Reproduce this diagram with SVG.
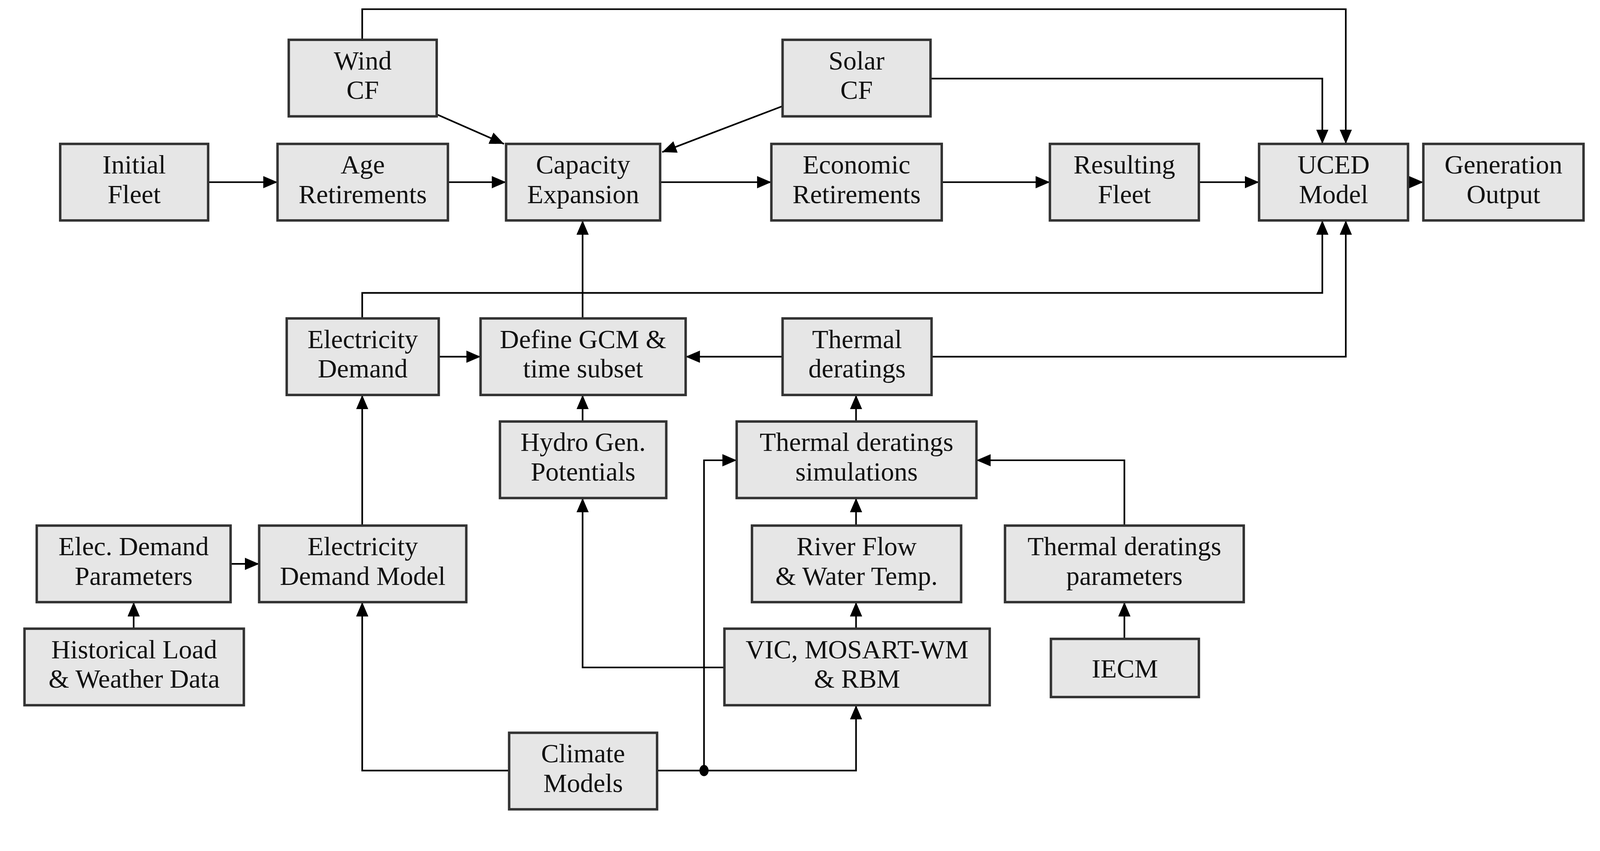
<svg xmlns="http://www.w3.org/2000/svg" width="4219" height="2178" viewBox="0 0 4219 2178">
<style>
.n rect{fill:#e6e6e6;stroke:#333;stroke-width:2.4}
.n text{font-family:"Liberation Serif",serif;font-size:26px;text-anchor:middle;fill:#111}
#edges path{fill:none;stroke:#000;stroke-width:1.6}
</style>
<defs>
<marker id="a" markerUnits="userSpaceOnUse" markerWidth="15" markerHeight="13" refX="14" refY="6" orient="auto"><path d="M0,0 L14,6 L0,12 z" fill="#000"/></marker>
</defs>
<rect width="4219" height="2178" fill="#fff"/>
<g transform="scale(2.612)">
<g id="edges">
<path d="M204,178.5 H272" marker-end="url(#a)"/>
<path d="M439,178.5 H496" marker-end="url(#a)"/>
<path d="M647,178.5 H756" marker-end="url(#a)"/>
<path d="M923,178.5 H1029" marker-end="url(#a)"/>
<path d="M1175,178.5 H1234" marker-end="url(#a)"/>
<path d="M1380,178.5 H1395" marker-end="url(#a)"/>
<path d="M428,112 L494,141" marker-end="url(#a)"/>
<path d="M767,104 L649,149" marker-end="url(#a)"/>
<path d="M355,39 V9 H1319 V141" marker-end="url(#a)"/>
<path d="M912,77 H1296 V141" marker-end="url(#a)"/>
<path d="M571,312 V216" marker-end="url(#a)"/>
<path d="M355,312 V287 H1296 V216" marker-end="url(#a)"/>
<path d="M913,349.5 H1319 V216" marker-end="url(#a)"/>
<path d="M430,349.5 H471" marker-end="url(#a)"/>
<path d="M767,349.5 H672" marker-end="url(#a)"/>
<path d="M571,413 V387" marker-end="url(#a)"/>
<path d="M839,413 V387" marker-end="url(#a)"/>
<path d="M839,515 V488" marker-end="url(#a)"/>
<path d="M839,616 V590" marker-end="url(#a)"/>
<path d="M1102,515 V451 H957" marker-end="url(#a)"/>
<path d="M1102,626 V590" marker-end="url(#a)"/>
<path d="M499,755 H355 V590" marker-end="url(#a)"/>
<path d="M644,755 H839 V691" marker-end="url(#a)"/>
<path d="M690,755 V451 H722" marker-end="url(#a)"/>
<path d="M710,654 H571 V488" marker-end="url(#a)"/>
<path d="M226,552.5 H254" marker-end="url(#a)"/>
<path d="M131,616 V590" marker-end="url(#a)"/>
<path d="M355,515 V387" marker-end="url(#a)"/>
<ellipse cx="690" cy="755" rx="4.5" ry="5.5" fill="#000"/>
</g>
<g id="wind" class="n"><rect x="283" y="39" width="145" height="75"/><text x="355.5" y="68">Wind</text><text x="355.5" y="97">CF</text></g>
<g id="solar" class="n"><rect x="767" y="39" width="145" height="75"/><text x="839.5" y="68">Solar</text><text x="839.5" y="97">CF</text></g>
<g id="initial" class="n"><rect x="59" y="141" width="145" height="75"/><text x="131.5" y="170">Initial</text><text x="131.5" y="199">Fleet</text></g>
<g id="age" class="n"><rect x="272" y="141" width="167" height="75"/><text x="355.5" y="170">Age</text><text x="355.5" y="199">Retirements</text></g>
<g id="capacity" class="n"><rect x="496" y="141" width="151" height="75"/><text x="571.5" y="170">Capacity</text><text x="571.5" y="199">Expansion</text></g>
<g id="economic" class="n"><rect x="756" y="141" width="167" height="75"/><text x="839.5" y="170">Economic</text><text x="839.5" y="199">Retirements</text></g>
<g id="resulting" class="n"><rect x="1029" y="141" width="146" height="75"/><text x="1102" y="170">Resulting</text><text x="1102" y="199">Fleet</text></g>
<g id="uced" class="n"><rect x="1234" y="141" width="146" height="75"/><text x="1307" y="170">UCED</text><text x="1307" y="199">Model</text></g>
<g id="generation" class="n"><rect x="1395" y="141" width="157" height="75"/><text x="1473.5" y="170">Generation</text><text x="1473.5" y="199">Output</text></g>
<g id="elecdemand" class="n"><rect x="281" y="312" width="149" height="75"/><text x="355.5" y="341">Electricity</text><text x="355.5" y="370">Demand</text></g>
<g id="gcm" class="n"><rect x="471" y="312" width="201" height="75"/><text x="571.5" y="341">Define GCM &amp;</text><text x="571.5" y="370">time subset</text></g>
<g id="thermal" class="n"><rect x="767" y="312" width="146" height="75"/><text x="840" y="341">Thermal</text><text x="840" y="370">deratings</text></g>
<g id="hydro" class="n"><rect x="490" y="413" width="163" height="75"/><text x="571.5" y="442">Hydro Gen.</text><text x="571.5" y="471">Potentials</text></g>
<g id="sim" class="n"><rect x="722" y="413" width="235" height="75"/><text x="839.5" y="442">Thermal deratings</text><text x="839.5" y="471">simulations</text></g>
<g id="elecparams" class="n"><rect x="36" y="515" width="190" height="75"/><text x="131" y="544">Elec. Demand</text><text x="131" y="573">Parameters</text></g>
<g id="edm" class="n"><rect x="254" y="515" width="203" height="75"/><text x="355.5" y="544">Electricity</text><text x="355.5" y="573">Demand Model</text></g>
<g id="river" class="n"><rect x="737" y="515" width="205" height="75"/><text x="839.5" y="544">River Flow</text><text x="839.5" y="573">&amp; Water Temp.</text></g>
<g id="tdparams" class="n"><rect x="985" y="515" width="234" height="75"/><text x="1102" y="544">Thermal deratings</text><text x="1102" y="573">parameters</text></g>
<g id="historical" class="n"><rect x="24" y="616" width="215" height="75"/><text x="131.5" y="645">Historical Load</text><text x="131.5" y="674">&amp; Weather Data</text></g>
<g id="vic" class="n"><rect x="710" y="616" width="260" height="75"/><text x="840" y="645">VIC, MOSART-WM</text><text x="840" y="674">&amp; RBM</text></g>
<g id="iecm" class="n"><rect x="1030" y="626" width="145" height="57"/><text x="1102.5" y="664">IECM</text></g>
<g id="climate" class="n"><rect x="499" y="718" width="145" height="75"/><text x="571.5" y="747">Climate</text><text x="571.5" y="776">Models</text></g>
</g>
</svg>
